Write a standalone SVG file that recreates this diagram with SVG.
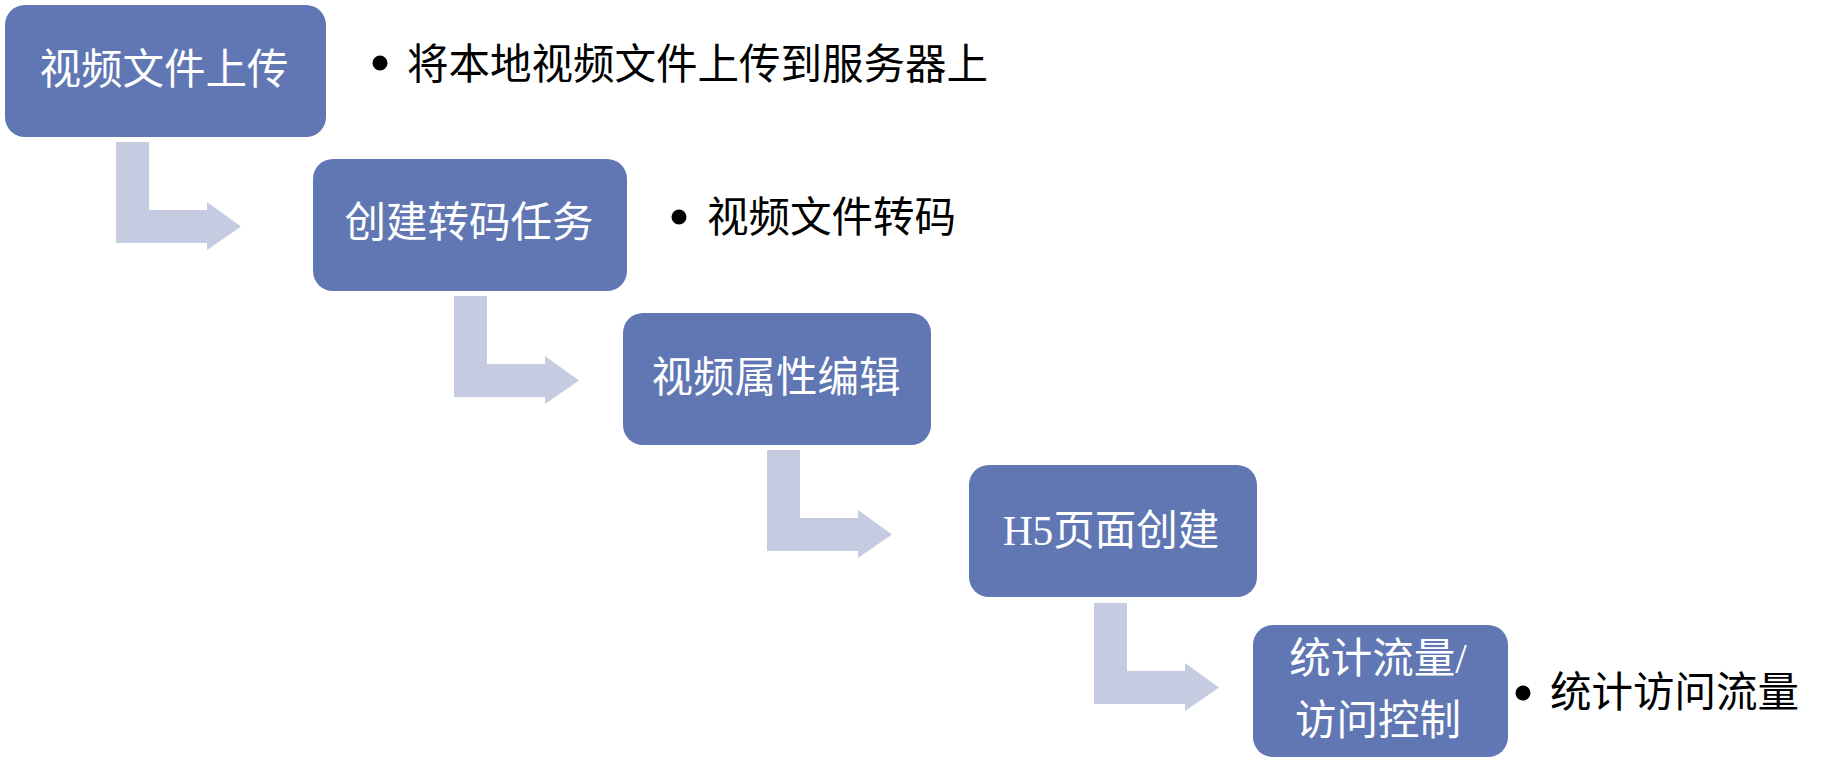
<svg xmlns="http://www.w3.org/2000/svg" width="1826" height="766" viewBox="0 0 1826 766">
<style>
.box{fill:#6077B4;}
.arr{fill:#C5CBE0;}
.bt{font-family:"Liberation Serif","Noto Sans CJK SC",serif;font-size:41.5px;fill:#FFFFFF;text-anchor:middle;}
.lt{font-family:"Liberation Serif","Noto Sans CJK SC",serif;font-size:41.5px;fill:#000000;}
.dot{fill:#000000;}
</style>
<rect width="1826" height="766" fill="#FFFFFF"/>
<g id="connectors">
<path class="arr" d="M116,142 H149 V210 H207 V202 L241,226.5 L207,250 V243 H116 Z"/>
<path class="arr" d="M454,296 H487 V364 H545 V356 L579,380.5 L545,404 V397 H454 Z"/>
<path class="arr" d="M767,450 H800 V518 H858 V510 L892,534.5 L858,558 V551 H767 Z"/>
<path class="arr" d="M1094,603 H1127 V671 H1185 V663 L1219,687.5 L1185,711 V704 H1094 Z"/>
</g>
<g id="node1">
<rect class="box" x="5" y="5" width="321" height="132" rx="20"/>
<text class="bt" x="164" y="84">视频文件上传</text>
</g>
<g id="note1">
<circle class="dot" cx="380" cy="63" r="7.5"/>
<text class="lt" x="407" y="79">将本地视频文件上传到服务器上</text>
</g>
<g id="node2">
<rect class="box" x="313" y="159" width="314" height="132" rx="20"/>
<text class="bt" x="469" y="237">创建转码任务</text>
</g>
<g id="note2">
<circle class="dot" cx="679" cy="217" r="7.5"/>
<text class="lt" x="707" y="232">视频文件转码</text>
</g>
<g id="node3">
<rect class="box" x="623" y="313" width="308" height="132" rx="20"/>
<text class="bt" x="776" y="392">视频属性编辑</text>
</g>
<g id="node4">
<rect class="box" x="969" y="465" width="288" height="132" rx="20"/>
<text class="bt" x="1111" y="545">H5页面创建</text>
</g>
<g id="node5">
<rect class="box" x="1253" y="625" width="255" height="132" rx="20"/>
<text class="bt" x="1378" y="673">统计流量/</text>
<text class="bt" x="1378" y="735">访问控制</text>
</g>
<g id="note5">
<circle class="dot" cx="1523" cy="693" r="7.5"/>
<text class="lt" x="1550" y="707">统计访问流量</text>
</g>
</svg>
